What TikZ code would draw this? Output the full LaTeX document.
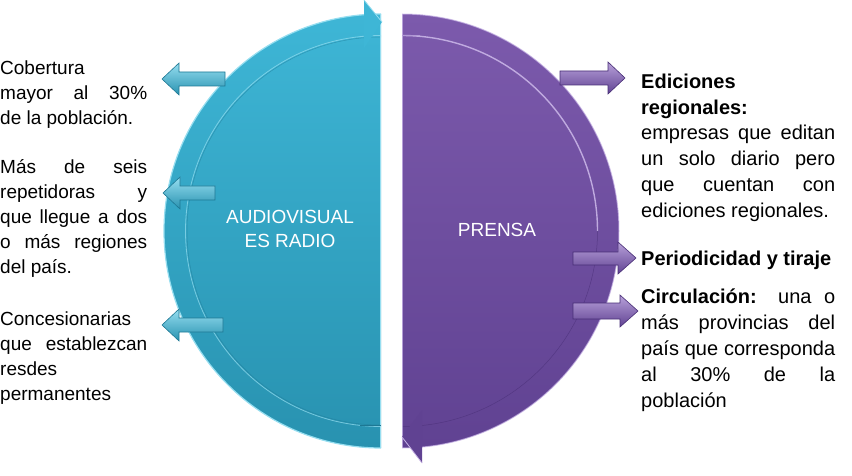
\documentclass[tikz,border=0pt]{standalone}
\usepackage{fontspec}
\setmainfont{Liberation Sans}
\definecolor{cyT}{RGB}{62,182,214}
\definecolor{cyB}{RGB}{40,146,176}
\definecolor{cyL}{RGB}{150,222,240}
\definecolor{cyD}{RGB}{30,120,148}
\definecolor{puT}{RGB}{124,90,172}
\definecolor{puB}{RGB}{96,66,146}
\definecolor{puL}{RGB}{200,180,230}
\definecolor{puD}{RGB}{72,46,118}
\newcommand\jl[2]{\makebox[#1][s]{#2}}
\tikzset{
  lefttxt/.style={anchor=base west, inner sep=0pt, align=left, font=\fontsize{19}{25}\selectfont},
  righttxt/.style={anchor=base west, inner sep=0pt, align=left, font=\fontsize{20}{26}\selectfont},
  centertxt/.style={inner sep=0pt, align=center, text=white, font=\fontsize{19}{24}\selectfont},
  cyarrow/.style={top color=cyL, bottom color=cyB, draw=cyD, line width=0.6pt, line join=miter},
  puarrow/.style={top color=puL!80!puT, bottom color=puB, draw=puD, line width=0.6pt, line join=miter}
}
\begin{document}
\begin{tikzpicture}[x=1pt,y=-1pt]
\useasboundingbox (0,0) rectangle (852,476);
% cyan half disc
\shade[top color=cyT, bottom color=cyB] (381,14) arc[start angle=-90, end angle=-270, radius=217] -- cycle;
\draw[cyL, line width=1.2pt] (381,14) arc[start angle=-90, end angle=-270, radius=217];
\draw[cyD, line width=0.5pt, opacity=.5] (381,425) arc[start angle=90, end angle=270, radius=194];
\draw[cyL, line width=0.8pt, opacity=.7] (381,426.5) arc[start angle=90, end angle=270, radius=195.5];
\draw[cyL, line width=1pt] (380.5,14) -- (380.5,448);
\draw[cyD, line width=0.6pt] (360,425) -- (381,425);
\fill[cyT] (364,0) -- (382,22) -- (364,48) -- cycle;
\draw[cyL, line width=0.8pt] (364,0) -- (382,22);
% purple half disc
\shade[top color=puT, bottom color=puB] (402,14) arc[start angle=-90, end angle=90, radius=217] -- cycle;
\draw[puL, line width=1pt, opacity=.7] (402,14) arc[start angle=-90, end angle=90, radius=217];
\draw[puL, line width=1.4pt, opacity=.9] (402,35.5) arc[start angle=-90, end angle=0, radius=195.5];
\draw[puD, line width=0.5pt, opacity=.6] (597.5,231) arc[start angle=0, end angle=90, radius=195.5];
\draw[puL, line width=1pt, opacity=.8] (402.5,14) -- (402.5,448);
\draw[puL!70!puT, line width=0.8pt] (402,35) -- (420,35);
\fill[puB] (422,410) -- (402,437) -- (422,463) -- cycle;
\draw[puL, line width=0.8pt] (402,437) -- (422,463);
% centre labels
\node[centertxt] (av) at (290,229) {AUDIOVISUAL\\ES RADIO};
\node[centertxt] (pr) at (497,230) {PRENSA};
% left block arrows
\shade[cyarrow] (225,72) -- (179,72) -- (179,63) -- (162,79) -- (179,95) -- (179,86) -- (225,86) -- cycle;
\shade[cyarrow] (215,186) -- (180,186) -- (180,177) -- (163,193) -- (180,209) -- (180,200) -- (215,200) -- cycle;
\shade[cyarrow] (223,318) -- (179,318) -- (179,309) -- (162,325) -- (179,341) -- (179,332) -- (223,332) -- cycle;
% right block arrows
\shade[puarrow] (560,71) -- (608,71) -- (608,62) -- (625,78) -- (608,94) -- (608,85) -- (560,85) -- cycle;
\shade[puarrow] (573,252) -- (618,252) -- (618,242) -- (636,258) -- (618,274) -- (618,265) -- (573,265) -- cycle;
\shade[puarrow] (573,303) -- (620,303) -- (620,295) -- (638,311) -- (620,327) -- (620,319) -- (573,319) -- cycle;
% left texts (anchored at the baseline of their last line)
\node[lefttxt] (t1) at (0,125) {Cobertura\\\jl{147pt}{mayor al 30\%}\\de la población.};
\node[lefttxt] (t2) at (0,273) {\jl{147pt}{Más de seis}\\\jl{147pt}{repetidoras y}\\\jl{147pt}{que llegue a dos}\\\jl{147pt}{o más regiones}\\del país.};
\node[lefttxt] (t3) at (0,400) {Concesionarias\\\jl{147pt}{que establezcan}\\resdes\\permanentes};
% right texts
\node[righttxt] (r1) at (641,218) {\textbf{Ediciones}\\\textbf{regionales:}\\\jl{194pt}{empresas que editan}\\\jl{194pt}{un solo diario pero}\\\jl{194pt}{que cuentan con}\\ediciones regionales.};
\node[righttxt] (r2) at (641,265) {\textbf{Periodicidad y tiraje}};
\node[righttxt] (r3) at (641,407) {\jl{194pt}{\textbf{Circulación:} una o}\\\jl{194pt}{más provincias del}\\\jl{194pt}{país que corresponda}\\\jl{194pt}{al 30\% de la}\\población};
\end{tikzpicture}
\end{document}
